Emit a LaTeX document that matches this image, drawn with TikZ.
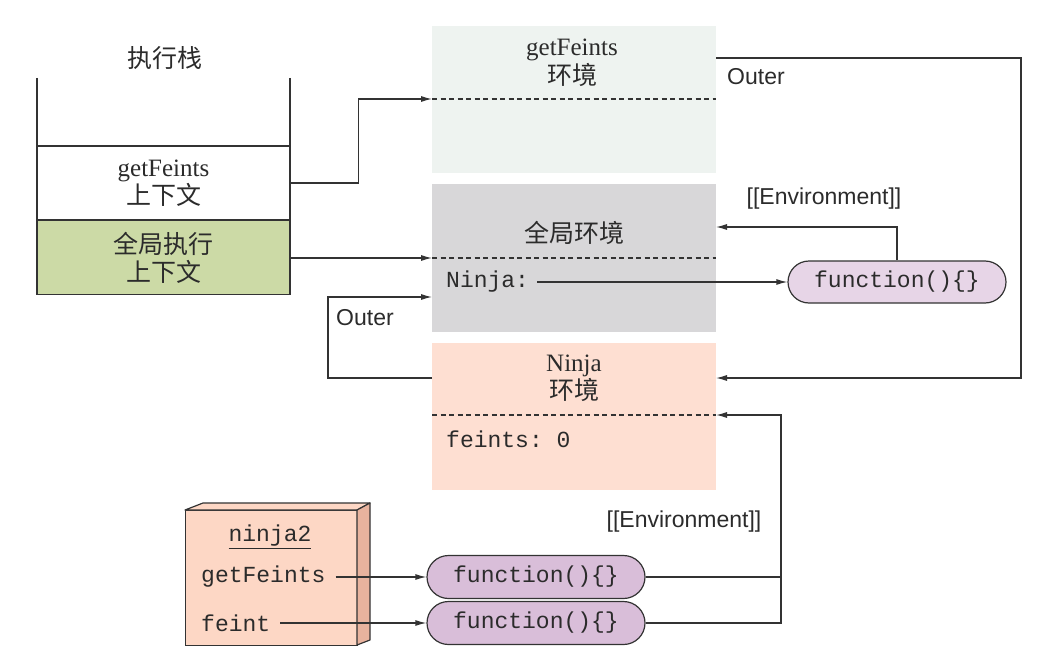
\documentclass[tikz,border=0pt]{standalone}
\usepackage{fontspec}
\setmainfont{Liberation Serif}
\setsansfont{Liberation Sans}
\setmonofont{Liberation Mono}
\newfontfamily\cjk{Noto Sans CJK SC}
\usetikzlibrary{shapes.misc,arrows.meta}
\definecolor{txtc}{HTML}{2B2B2B}
\definecolor{linec}{HTML}{333333}
\definecolor{gfenv}{HTML}{EEF3F0}
\definecolor{glenv}{HTML}{D8D7D9}
\definecolor{njenv}{HTML}{FEDFD2}
\definecolor{stgreen}{HTML}{CCDAA6}
\definecolor{fnA}{HTML}{E7D5E7}
\definecolor{fnB}{HTML}{D9BED9}
\definecolor{njF}{HTML}{FDD7C5}
\definecolor{njS}{HTML}{E8B39E}
\newcommand\zh[1]{{\cjk\fontsize{25}{28}\selectfont #1}}
\begin{document}
\begin{tikzpicture}[x=1pt,y=-1pt,
  txt/.style={text=txtc, font=\fontsize{25}{28}\selectfont, align=center, inner sep=0pt},
  sans/.style={txt, font=\sffamily\fontsize{23}{26}\selectfont},
  mono/.style={txt, font=\ttfamily\fontsize{23}{27}\selectfont},
  envbox/.style={rectangle, draw=none, inner sep=0pt, anchor=north west, minimum width=284pt, minimum height=147pt},
  stackbox/.style={rectangle, draw=linec, line width=1.2pt, inner sep=0pt, minimum width=253pt, minimum height=74pt, txt},
  fn/.style={rounded rectangle, draw=linec, line width=1.2pt, minimum width=218pt, minimum height=42pt, inner sep=0pt, mono},
  arr/.style={draw=linec, line width=1.2pt, -{Latex[length=11pt,width=6pt]}},
  plain/.style={draw=linec, line width=1.2pt},
  dashline/.style={draw=linec, line width=1.2pt, dash pattern=on 5pt off 3.5pt}
]
\useasboundingbox (0,0) rectangle (1038,650);

% execution stack
\node[txt] (stacktitle) at (165,58) {\zh{执行栈}};
\draw[plain] (37,78) -- (37,146);
\draw[plain] (290,78) -- (290,146);
\node[stackbox, fill=white] (sgf) at (163.5,183) {getFeints\\\zh{上下文}};
\node[stackbox, fill=stgreen] (sgl) at (163.5,257.5) {\zh{全局执行}\\\zh{上下文}};

% environments
\node[envbox, fill=gfenv] (genv) at (432,26) {};
\node[envbox, fill=glenv, minimum height=148pt] (lenv) at (432,184) {};
\node[envbox, fill=njenv] (nenv) at (432,343) {};
\draw[dashline] (432,99) -- (716,99);
\draw[dashline] (432,258) -- (716,258);
\draw[dashline] (432,415) -- (716,415);

\node[txt] (gtitle) at (572,63) {getFeints\\[1pt]\zh{环境}};
\node[txt] (ltitle) at (574,233) {\zh{全局环境}};
\node[txt] (ntitle) at (574,378) {Ninja\\\zh{环境}};
\node[mono, anchor=west] (ninjavar) at (446,282) {Ninja:};
\node[mono, anchor=west] (feintsvar) at (446,439) {feints: 0};

% function objects
\node[fn, fill=fnA] (f1) at (897,282) {function()\{\}};
\node[fn, fill=fnB, minimum height=43pt] (f2) at (536,577) {function()\{\}};
\node[fn, fill=fnB, minimum height=43pt] (f3) at (536,623) {function()\{\}};

% ninja2 object
\node[rectangle, draw=linec, line width=1.2pt, fill=njF, minimum width=172pt, minimum height=135pt, anchor=north west, inner sep=0pt] (n2) at (185,510) {};
\draw[plain, fill=njF, line join=round] (185,510) -- (203,503) -- (370,503) -- (357,510) -- cycle;
\draw[plain, fill=njS, line join=round] (357,510) -- (370,503) -- (370,640) -- (357,645) -- cycle;
\node[mono] (n2title) at (270,537) {\underline{ninja2}};
\node[mono, anchor=west] (gfprop) at (201,577) {getFeints};
\node[mono, anchor=west] (feprop) at (201,623) {feint};

% named connection points
\coordinate (gIn) at (432,99);
\coordinate (lIn) at (432,258);
\coordinate (lOuterIn) at (432,297);
\coordinate (nOuterOut) at (432,378);
\coordinate (gOuterOut) at (716,58);
\coordinate (nOuterIn) at (716,378);
\coordinate (lEnvIn) at (716,227);
\coordinate (nEnvIn) at (716,415);
\coordinate (bus) at (781,415);

% connectors
\draw[arr] (sgf.east) -- ++(68,0) |- (gIn);
\draw[arr] (sgl.east |- lIn) -- (lIn);
\draw[arr] (ninjavar.east) ++(8,0) -- (f1.west);
\draw[arr] (f1.north) |- (lEnvIn);
\draw[arr] (gOuterOut) -- ++(305,0) |- (nOuterIn);
\draw[arr] (nOuterOut) -- ++(-104,0) |- (lOuterIn);
\draw[plain] (f2.east) -- (f2.east -| bus);
\draw[arr] (f3.east) -| (bus) -- (nEnvIn);
\draw[arr] ([xshift=10pt]gfprop.east) -- (f2.west);
\draw[arr] ([xshift=10pt]feprop.east) -- (f3.west);

% labels
\node[sans, anchor=west] (outer1) at (727,77) {Outer};
\node[sans, anchor=west] (outer2) at (336,318) {Outer};
\node[sans] (envlab1) at (824,199) {[[Environment]]};
\node[sans] (envlab2) at (684,522) {[[Environment]]};
\end{tikzpicture}
\end{document}
